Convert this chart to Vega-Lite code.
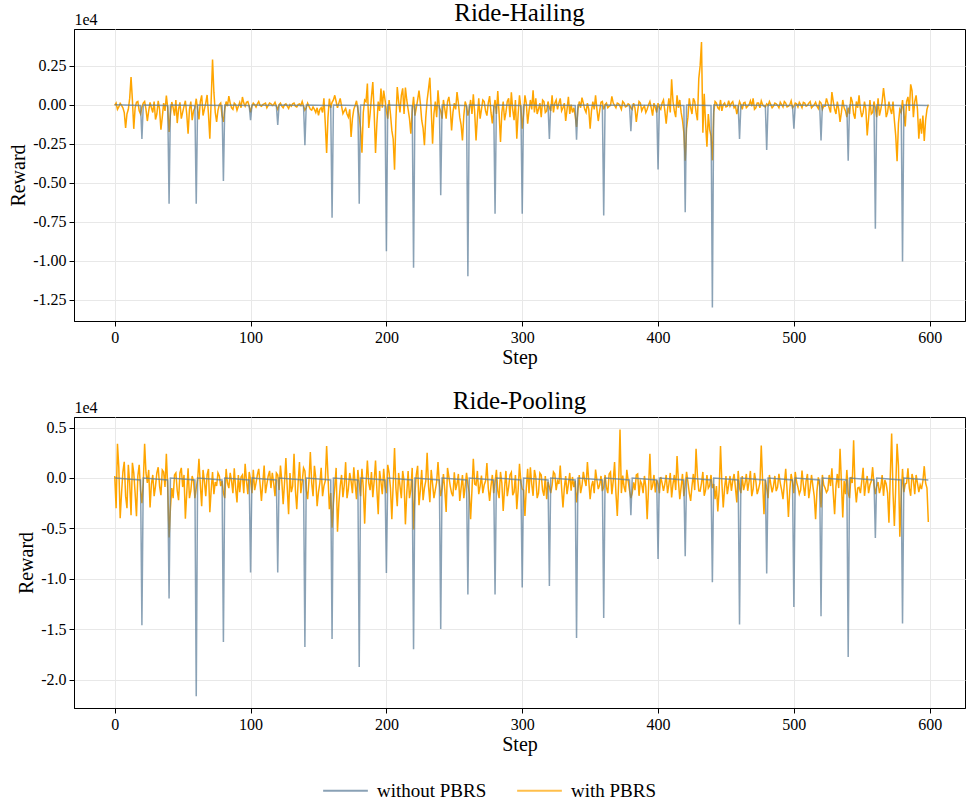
{
"$schema": "https://vega.github.io/schema/vega-lite/v6.json",
"background": "white",
"padding": {"left": 8, "top": 0, "right": 0, "bottom": 0},
"spacing": 20,
"config": {
  "font": "Liberation Serif",
  "view": {"stroke": "black", "strokeWidth": 1},
  "axis": {"labelFont": "Liberation Serif", "titleFont": "Liberation Serif", "labelFontSize": 16, "titleFontSize": 20, "titleFontWeight": "normal", "labelColor": "black", "titleColor": "black", "domainColor": "black", "tickColor": "black", "gridColor": "#e8e8e8", "tickSize": 5, "labelPadding": 3, "titlePadding": 4},
  "axisX": {"titlePadding": 2},
  "title": {"font": "Liberation Serif", "fontSize": 25, "fontWeight": "normal", "color": "black"},
  "legend": {"labelFont": "Liberation Serif", "labelFontSize": 19, "labelColor": "black"}
},
"datasets": {
"orange": [
{"step":0,"hail":-50,"pool":200},{"step":2,"hail":-300,"pool":3400},{"step":4,"hail":80,"pool":-4000},{"step":6,"hail":-200,"pool":600},{"step":8,"hail":-1500,"pool":-1800},{"step":10,"hail":-300,"pool":1300},{"step":12,"hail":1770,"pool":-3700},{"step":14,"hail":-1550,"pool":500},{"step":16,"hail":150,"pool":-3800},{"step":18,"hail":-400,"pool":1300},
{"step":20,"hail":-150,"pool":-2500},{"step":22,"hail":200,"pool":3400},{"step":24,"hail":-1050,"pool":-500},{"step":26,"hail":150,"pool":-2930},{"step":28,"hail":-500,"pool":300},{"step":30,"hail":-950,"pool":-800},{"step":32,"hail":250,"pool":1070},{"step":34,"hail":-1600,"pool":-1700},{"step":36,"hail":100,"pool":600},{"step":38,"hail":580,"pool":2400},
{"step":40,"hail":-1750,"pool":-5900},{"step":42,"hail":170,"pool":-1000},{"step":44,"hail":-700,"pool":300},{"step":46,"hail":-1180,"pool":-1270},{"step":48,"hail":150,"pool":500},{"step":50,"hail":-500,"pool":-900},{"step":52,"hail":250,"pool":-4030},{"step":54,"hail":-1860,"pool":970},{"step":56,"hail":200,"pool":-1270},{"step":58,"hail":-400,"pool":-300},
{"step":60,"hail":380,"pool":-1000},{"step":62,"hail":-950,"pool":1900},{"step":64,"hail":600,"pool":-2800},{"step":66,"hail":-300,"pool":-300},{"step":68,"hail":620,"pool":300},{"step":70,"hail":-2180,"pool":-3400},{"step":72,"hail":2890,"pool":600},{"step":74,"hail":-500,"pool":-400},{"step":76,"hail":-360,"pool":500},{"step":78,"hail":100,"pool":-800},
{"step":80,"hail":-1110,"pool":-1500},{"step":82,"hail":200,"pool":900},{"step":84,"hail":550,"pool":-1000},{"step":86,"hail":-200,"pool":-300},{"step":88,"hail":100,"pool":970},{"step":90,"hail":-360,"pool":-2430},{"step":92,"hail":150,"pool":-1400},{"step":94,"hail":490,"pool":300},{"step":96,"hail":-100,"pool":1400},{"step":98,"hail":200,"pool":-1600},
{"step":100,"hail":-500,"pool":-200},{"step":102,"hail":100,"pool":800},{"step":104,"hail":-150,"pool":-500},{"step":106,"hail":200,"pool":900},{"step":108,"hail":-100,"pool":-2270},{"step":110,"hail":50,"pool":1230},{"step":112,"hail":-200,"pool":-600},{"step":114,"hail":100,"pool":700},{"step":116,"hail":-50,"pool":500},{"step":118,"hail":150,"pool":-1800},
{"step":120,"hail":-300,"pool":300},{"step":122,"hail":100,"pool":1230},{"step":124,"hail":-200,"pool":-2600},{"step":126,"hail":50,"pool":1970},{"step":128,"hail":-250,"pool":-3600},{"step":130,"hail":-100,"pool":-1400},{"step":132,"hail":100,"pool":2400},{"step":134,"hail":-150,"pool":-3100},{"step":136,"hail":50,"pool":1570},{"step":138,"hail":200,"pool":-400},
{"step":140,"hail":-350,"pool":700},{"step":142,"hail":100,"pool":-2100},{"step":144,"hail":-300,"pool":2570},{"step":146,"hail":-150,"pool":-1800},{"step":148,"hail":-500,"pool":0},{"step":150,"hail":-680,"pool":-1400},{"step":152,"hail":-200,"pool":1000},{"step":154,"hail":400,"pool":-800},{"step":156,"hail":-3100,"pool":3170},{"step":158,"hail":380,"pool":-3100},
{"step":160,"hail":150,"pool":-4930},{"step":162,"hail":600,"pool":-900},{"step":164,"hail":-200,"pool":-5330},{"step":166,"hail":400,"pool":-800},{"step":168,"hail":-580,"pool":-1900},{"step":170,"hail":-250,"pool":1570},{"step":172,"hail":-800,"pool":-1100},{"step":174,"hail":-2070,"pool":-300},{"step":176,"hail":-300,"pool":1070},{"step":178,"hail":250,"pool":-2100},
{"step":180,"hail":-800,"pool":-600},{"step":182,"hail":-3080,"pool":900},{"step":184,"hail":300,"pool":-4530},{"step":186,"hail":1350,"pool":1730},{"step":188,"hail":-600,"pool":-1200},{"step":190,"hail":1450,"pool":-1900},{"step":192,"hail":-3100,"pool":1730},{"step":194,"hail":200,"pool":-3600},{"step":196,"hail":1030,"pool":-400},{"step":198,"hail":900,"pool":900},
{"step":200,"hail":-400,"pool":-1500},{"step":202,"hail":300,"pool":500},{"step":204,"hail":-1650,"pool":-4100},{"step":206,"hail":-4170,"pool":2970},{"step":208,"hail":1130,"pool":-2800},{"step":210,"hail":-500,"pool":-800},{"step":212,"hail":1050,"pool":700},{"step":214,"hail":1100,"pool":-4600},{"step":216,"hail":-300,"pool":700},{"step":218,"hail":-1860,"pool":-1200},
{"step":220,"hail":500,"pool":-5100},{"step":222,"hail":-200,"pool":300},{"step":224,"hail":900,"pool":-2700},{"step":226,"hail":-1000,"pool":800},{"step":228,"hail":-2600,"pool":-1000},{"step":230,"hail":300,"pool":2500},{"step":232,"hail":1730,"pool":-2400},{"step":234,"hail":-2500,"pool":-600},{"step":236,"hail":200,"pool":-1200},{"step":238,"hail":920,"pool":1570},
{"step":240,"hail":-400,"pool":-1800},{"step":242,"hail":300,"pool":400},{"step":244,"hail":-900,"pool":-3370},{"step":246,"hail":500,"pool":100},{"step":248,"hail":-1650,"pool":-1500},{"step":250,"hail":100,"pool":570},{"step":252,"hail":800,"pool":-600},{"step":254,"hail":-800,"pool":-2270},{"step":256,"hail":-2290,"pool":300},{"step":258,"hail":200,"pool":-800},
{"step":260,"hail":-700,"pool":-600},{"step":262,"hail":300,"pool":-4100},{"step":264,"hail":660,"pool":1900},{"step":266,"hail":-2290,"pool":-700},{"step":268,"hail":400,"pool":-1600},{"step":270,"hail":-300,"pool":230},{"step":272,"hail":200,"pool":-700},{"step":274,"hail":-700,"pool":1470},{"step":276,"hail":550,"pool":-2270},{"step":278,"hail":-1200,"pool":300},
{"step":280,"hail":300,"pool":-400},{"step":282,"hail":880,"pool":-1270},{"step":284,"hail":-2400,"pool":600},{"step":286,"hail":200,"pool":-3270},{"step":288,"hail":-500,"pool":700},{"step":290,"hail":400,"pool":-900},{"step":292,"hail":790,"pool":570},{"step":294,"hail":-1000,"pool":-1400},{"step":296,"hail":-2180,"pool":-3100},{"step":298,"hail":600,"pool":1400},
{"step":300,"hail":-1540,"pool":-1100},{"step":302,"hail":600,"pool":-3770},{"step":304,"hail":-1220,"pool":900},{"step":306,"hail":300,"pool":1070},{"step":308,"hail":920,"pool":-1770},{"step":310,"hail":400,"pool":70},{"step":312,"hail":-300,"pool":-1500},{"step":314,"hail":-800,"pool":300},{"step":316,"hail":200,"pool":-1770},{"step":318,"hail":-400,"pool":-2100},
{"step":320,"hail":-200,"pool":-900},{"step":322,"hail":600,"pool":-700},{"step":324,"hail":100,"pool":400},{"step":326,"hail":-300,"pool":-300},{"step":328,"hail":400,"pool":1230},{"step":330,"hail":-200,"pool":-2930},{"step":332,"hail":-1050,"pool":200},{"step":334,"hail":500,"pool":-600},{"step":336,"hail":0,"pool":-1270},{"step":338,"hail":-200,"pool":-900},
{"step":340,"hail":-1430,"pool":-2430},{"step":342,"hail":200,"pool":300},{"step":344,"hail":450,"pool":-770},{"step":346,"hail":-300,"pool":-200},{"step":348,"hail":100,"pool":1570},{"step":350,"hail":-1540,"pool":-2100},{"step":352,"hail":200,"pool":-300},{"step":354,"hail":600,"pool":830},{"step":356,"hail":-1050,"pool":-1100},{"step":358,"hail":150,"pool":200},
{"step":360,"hail":-300,"pool":-900},{"step":362,"hail":100,"pool":-930},{"step":364,"hail":-100,"pool":400},{"step":366,"hail":530,"pool":-1600},{"step":368,"hail":-50,"pool":1570},{"step":370,"hail":100,"pool":-3770},{"step":372,"hail":-100,"pool":4800},{"step":374,"hail":200,"pool":230},{"step":376,"hail":-150,"pool":-1400},{"step":378,"hail":50,"pool":-270},
{"step":380,"hail":-200,"pool":-2000},{"step":382,"hail":100,"pool":-430},{"step":384,"hail":-1110,"pool":300},{"step":386,"hail":200,"pool":-1770},{"step":388,"hail":-400,"pool":-600},{"step":390,"hail":-100,"pool":200},{"step":392,"hail":-300,"pool":-4100},{"step":394,"hail":200,"pool":2400},{"step":396,"hail":-700,"pool":-770},{"step":398,"hail":-200,"pool":-1430},
{"step":400,"hail":100,"pool":-600},{"step":402,"hail":-300,"pool":100},{"step":404,"hail":300,"pool":-1270},{"step":406,"hail":-1220,"pool":300},{"step":408,"hail":400,"pool":-600},{"step":410,"hail":1620,"pool":-1930},{"step":412,"hail":-400,"pool":300},{"step":414,"hail":600,"pool":2170},{"step":416,"hail":300,"pool":-2100},{"step":418,"hail":-1000,"pool":400},
{"step":420,"hail":-3600,"pool":-770},{"step":422,"hail":-800,"pool":-400},{"step":424,"hail":-200,"pool":-2270},{"step":426,"hail":400,"pool":400},{"step":428,"hail":-500,"pool":2900},{"step":430,"hail":1670,"pool":-1270},{"step":432,"hail":4020,"pool":-500},{"step":434,"hail":700,"pool":-1770},{"step":436,"hail":-2700,"pool":300},{"step":438,"hail":-1600,"pool":-770},
{"step":440,"hail":-3570,"pool":-1000},{"step":442,"hail":200,"pool":-2100},{"step":444,"hail":-200,"pool":-3330},{"step":446,"hail":300,"pool":3170},{"step":448,"hail":0,"pool":-2930},{"step":450,"hail":-150,"pool":200},{"step":452,"hail":250,"pool":-700},{"step":454,"hail":100,"pool":-1270},{"step":456,"hail":-200,"pool":400},{"step":458,"hail":-600,"pool":-2430},
{"step":460,"hail":200,"pool":-1000},{"step":462,"hail":-300,"pool":200},{"step":464,"hail":150,"pool":-600},{"step":466,"hail":-100,"pool":-1270},{"step":468,"hail":250,"pool":700},{"step":470,"hail":400,"pool":-1100},{"step":472,"hail":-200,"pool":-300},{"step":474,"hail":100,"pool":-1100},{"step":476,"hail":250,"pool":3230},{"step":478,"hail":-100,"pool":-3600},
{"step":480,"hail":50,"pool":-1000},{"step":482,"hail":200,"pool":300},{"step":484,"hail":-200,"pool":-1430},{"step":486,"hail":100,"pool":200},{"step":488,"hail":-50,"pool":-900},{"step":490,"hail":150,"pool":-500},{"step":492,"hail":-150,"pool":-2100},{"step":494,"hail":100,"pool":900},{"step":496,"hail":-100,"pool":-3870},{"step":498,"hail":250,"pool":400},
{"step":500,"hail":-100,"pool":-1500},{"step":502,"hail":50,"pool":-400},{"step":504,"hail":150,"pool":-1600},{"step":506,"hail":-200,"pool":730},{"step":508,"hail":100,"pool":-1770},{"step":510,"hail":-50,"pool":400},{"step":512,"hail":200,"pool":-1000},{"step":514,"hail":-100,"pool":-800},{"step":516,"hail":150,"pool":-4100},{"step":518,"hail":-250,"pool":70},
{"step":520,"hail":100,"pool":-2930},{"step":522,"hail":-100,"pool":-700},{"step":524,"hail":400,"pool":-1430},{"step":526,"hail":-200,"pool":300},{"step":528,"hail":810,"pool":970},{"step":530,"hail":-300,"pool":-3600},{"step":532,"hail":200,"pool":400},{"step":534,"hail":-1110,"pool":2900},{"step":536,"hail":300,"pool":-3930},{"step":538,"hail":-400,"pool":-1600},
{"step":540,"hail":-200,"pool":-1500},{"step":542,"hail":500,"pool":100},{"step":544,"hail":-600,"pool":3730},{"step":546,"hail":200,"pool":-2430},{"step":548,"hail":600,"pool":-930},{"step":550,"hail":-800,"pool":-300},{"step":552,"hail":200,"pool":-1770},{"step":554,"hail":-1970,"pool":200},{"step":556,"hail":300,"pool":-700},{"step":558,"hail":-500,"pool":1070},
{"step":560,"hail":-200,"pool":-1600},{"step":562,"hail":400,"pool":-400},{"step":564,"hail":-300,"pool":-930},{"step":566,"hail":1070,"pool":-1770},{"step":568,"hail":-800,"pool":-600},{"step":570,"hail":200,"pool":-4430},{"step":572,"hail":-600,"pool":4400},{"step":574,"hail":-1000,"pool":-4770},{"step":576,"hail":-3630,"pool":3400},{"step":578,"hail":-300,"pool":-5830},
{"step":580,"hail":300,"pool":900},{"step":582,"hail":-1400,"pool":-600},{"step":584,"hail":500,"pool":970},{"step":586,"hail":1300,"pool":-1770},{"step":588,"hail":-800,"pool":-200},{"step":590,"hail":600,"pool":300},{"step":592,"hail":-2180,"pool":-1400},{"step":594,"hail":-1860,"pool":-1100},{"step":596,"hail":-2330,"pool":1170},{"step":598,"hail":-300,"pool":-1000},
{"step":599,"hail":0,"pool":-4360},
{"step":1,"hail":100,"pool":-3000},{"step":3,"hail":-150,"pool":1000},{"step":5,"hail":-50,"pool":-1500},{"step":7,"hail":-500,"pool":1600},{"step":9,"hail":-600,"pool":-3000},{"step":11,"hail":400,"pool":-500},{"step":13,"hail":300,"pool":1500},{"step":15,"hail":-200,"pool":-1500},{"step":17,"hail":200,"pool":200},{"step":19,"hail":-600,"pool":-1200},
{"step":21,"hail":100,"pool":-500},{"step":23,"hail":-300,"pool":500},{"step":25,"hail":-400,"pool":800},{"step":27,"hail":-200,"pool":-600},{"step":29,"hail":200,"pool":-1800},{"step":31,"hail":-600,"pool":500},{"step":33,"hail":-300,"pool":-800},{"step":35,"hail":-800,"pool":800},{"step":37,"hail":-400,"pool":-900},{"step":39,"hail":-200,"pool":-1000},
{"step":41,"hail":-600,"pool":-3000},{"step":43,"hail":-200,"pool":-2000},{"step":45,"hail":300,"pool":500},{"step":47,"hail":-300,"pool":-2200},{"step":49,"hail":-900,"pool":1000},{"step":51,"hail":-100,"pool":300},{"step":53,"hail":-600,"pool":-1500},{"step":55,"hail":-300,"pool":-2000},{"step":57,"hail":-1000,"pool":200},{"step":59,"hail":-200,"pool":-2000},
{"step":61,"hail":-300,"pool":-200},{"step":63,"hail":200,"pool":-700},{"step":65,"hail":-700,"pool":800},{"step":67,"hail":100,"pool":-1800},{"step":69,"hail":-600,"pool":900},{"step":71,"hail":300,"pool":-1200},{"step":73,"hail":800,"pool":-1600},{"step":75,"hail":-1100,"pool":-800},{"step":77,"hail":0,"pool":200},{"step":79,"hail":-700,"pool":-300},
{"step":81,"hail":-300,"pool":-2000},{"step":83,"hail":-100,"pool":-500},{"step":85,"hail":100,"pool":500},{"step":87,"hail":-300,"pool":-1500},{"step":89,"hail":0,"pool":-1000},{"step":91,"hail":-100,"pool":300},{"step":93,"hail":-200,"pool":100},{"step":95,"hail":100,"pool":-1500},{"step":97,"hail":150,"pool":-300},{"step":99,"hail":-100,"pool":600},
{"step":101,"hail":-100,"pool":-1500},{"step":103,"hail":0,"pool":-1200},{"step":105,"hail":50,"pool":300},{"step":107,"hail":-50,"pool":-600},{"step":109,"hail":0,"pool":-500},{"step":111,"hail":100,"pool":-1500},{"step":113,"hail":-50,"pool":200},{"step":115,"hail":50,"pool":-1000},{"step":117,"hail":0,"pool":-500},{"step":119,"hail":-100,"pool":500},
{"step":121,"hail":0,"pool":-1200},{"step":123,"hail":-100,"pool":-300},{"step":125,"hail":0,"pool":-500},{"step":127,"hail":-100,"pool":-1000},{"step":129,"hail":0,"pool":500},{"step":131,"hail":50,"pool":-800},{"step":133,"hail":-100,"pool":-1200},{"step":135,"hail":0,"pool":-500},{"step":137,"hail":-50,"pool":-1500},{"step":139,"hail":-100,"pool":1000},
{"step":141,"hail":-200,"pool":-1200},{"step":143,"hail":-100,"pool":-300},{"step":145,"hail":-350,"pool":-500},{"step":147,"hail":-300,"pool":1200},{"step":149,"hail":-200,"pool":-2800},{"step":151,"hail":-300,"pool":-500},{"step":153,"hail":-500,"pool":-1800},{"step":155,"hail":-1200,"pool":-300},{"step":157,"hail":-800,"pool":200},{"step":159,"hail":-200,"pool":-1500},
{"step":161,"hail":300,"pool":-2500},{"step":163,"hail":200,"pool":1000},{"step":165,"hail":100,"pool":-2500},{"step":167,"hail":-100,"pool":300},{"step":169,"hail":-400,"pool":-700},{"step":171,"hail":-600,"pool":-2000},{"step":173,"hail":-300,"pool":500},{"step":175,"hail":-900,"pool":-1500},{"step":177,"hail":-50,"pool":-600},{"step":179,"hail":-300,"pool":800},
{"step":181,"hail":-1500,"pool":-1800},{"step":183,"hail":-500,"pool":-1000},{"step":185,"hail":200,"pool":-600},{"step":187,"hail":-1500,"pool":-500},{"step":189,"hail":500,"pool":600},{"step":191,"hail":-500,"pool":-300},{"step":193,"hail":-1200,"pool":-1200},{"step":195,"hail":-400,"pool":700},{"step":197,"hail":-200,"pool":-1600},{"step":199,"hail":300,"pool":-800},
{"step":201,"hail":-900,"pool":1300},{"step":203,"hail":-600,"pool":-1000},{"step":205,"hail":-2200,"pool":-600},{"step":207,"hail":-1000,"pool":-1000},{"step":209,"hail":200,"pool":500},{"step":211,"hail":600,"pool":-2000},{"step":213,"hail":-600,"pool":-300},{"step":215,"hail":300,"pool":-1500},{"step":217,"hail":-900,"pool":-2000},{"step":219,"hail":-400,"pool":1000},
{"step":221,"hail":-700,"pool":-1500},{"step":223,"hail":300,"pool":1200},{"step":225,"hail":100,"pool":-1200},{"step":227,"hail":-1500,"pool":-2200},{"step":229,"hail":-800,"pool":-300},{"step":231,"hail":1000,"pool":-800},{"step":233,"hail":-300,"pool":800},{"step":235,"hail":-600,"pool":-2000},{"step":237,"hail":-800,"pool":-400},{"step":239,"hail":-200,"pool":-600},
{"step":241,"hail":-900,"pool":-1000},{"step":243,"hail":-300,"pool":-1200},{"step":245,"hail":200,"pool":1000},{"step":247,"hail":-200,"pool":-800},{"step":249,"hail":-500,"pool":-1800},{"step":251,"hail":-300,"pool":-1200},{"step":253,"hail":100,"pool":400},{"step":255,"hail":-1300,"pool":-1000},{"step":257,"hail":-700,"pool":-2000},{"step":259,"hail":-100,"pool":500},
{"step":261,"hail":-300,"pool":-1500},{"step":263,"hail":-600,"pool":-1200},{"step":265,"hail":-500,"pool":-600},{"step":267,"hail":-800,"pool":700},{"step":269,"hail":-900,"pool":-800},{"step":271,"hail":300,"pool":-1500},{"step":273,"hail":-400,"pool":-300},{"step":275,"hail":100,"pool":-1000},{"step":277,"hail":-500,"pool":-800},{"step":279,"hail":-300,"pool":-1500},
{"step":281,"hail":-600,"pool":800},{"step":283,"hail":-600,"pool":-2000},{"step":285,"hail":-500,"pool":-500},{"step":287,"hail":-1000,"pool":-1000},{"step":289,"hail":200,"pool":-1800},{"step":291,"hail":-800,"pool":300},{"step":293,"hail":-300,"pool":-1700},{"step":295,"hail":300,"pool":300},{"step":297,"hail":-600,"pool":-1200},{"step":299,"hail":-200,"pool":-400},
{"step":301,"hail":-600,"pool":-1200},{"step":303,"hail":100,"pool":-1000},{"step":305,"hail":-400,"pool":-1500},{"step":307,"hail":-300,"pool":-600},{"step":309,"hail":-500,"pool":800},{"step":311,"hail":-600,"pool":-2000},{"step":313,"hail":100,"pool":500},{"step":315,"hail":300,"pool":-1200},{"step":317,"hail":-500,"pool":200},{"step":319,"hail":200,"pool":-400},
{"step":321,"hail":-400,"pool":-1500},{"step":323,"hail":-500,"pool":600},{"step":325,"hail":300,"pool":-1200},{"step":327,"hail":100,"pool":-600},{"step":329,"hail":-400,"pool":-1000},{"step":331,"hail":100,"pool":-1000},{"step":333,"hail":-300,"pool":-1600},{"step":335,"hail":-600,"pool":500},{"step":337,"hail":-500,"pool":100},{"step":339,"hail":-700,"pool":-300},
{"step":341,"hail":-300,"pool":-1200},{"step":343,"hail":-200,"pool":-1500},{"step":345,"hail":100,"pool":600},{"step":347,"hail":-500,"pool":-800},{"step":349,"hail":-300,"pool":-300},{"step":351,"hail":-400,"pool":-800},{"step":353,"hail":-300,"pool":-1500},{"step":355,"hail":-300,"pool":-200},{"step":357,"hail":-400,"pool":-700},{"step":359,"hail":200,"pool":-1300},
{"step":361,"hail":0,"pool":300},{"step":363,"hail":-200,"pool":-1500},{"step":365,"hail":-50,"pool":600},{"step":367,"hail":100,"pool":-300},{"step":369,"hail":-200,"pool":-1500},{"step":371,"hail":50,"pool":-500},{"step":373,"hail":-300,"pool":-1500},{"step":375,"hail":100,"pool":-900},{"step":377,"hail":-100,"pool":800},{"step":379,"hail":0,"pool":-1200},
{"step":381,"hail":-300,"pool":-1500},{"step":383,"hail":-200,"pool":-1200},{"step":385,"hail":-400,"pool":400},{"step":387,"hail":100,"pool":-300},{"step":389,"hail":-200,"pool":-1500},{"step":391,"hail":-500,"pool":-900},{"step":393,"hail":0,"pool":-1000},{"step":395,"hail":-200,"pool":-1200},{"step":397,"hail":100,"pool":300},{"step":399,"hail":-500,"pool":-200},
{"step":401,"hail":-200,"pool":-1500},{"step":403,"hail":100,"pool":-500},{"step":405,"hail":-400,"pool":-600},{"step":407,"hail":-300,"pool":-1500},{"step":409,"hail":-500,"pool":500},{"step":411,"hail":200,"pool":-600},{"step":413,"hail":-800,"pool":-1200},{"step":415,"hail":-200,"pool":-300},{"step":417,"hail":-500,"pool":-900},{"step":419,"hail":-1800,"pool":-1800},
{"step":421,"hail":-1500,"pool":600},{"step":423,"hail":400,"pool":-1500},{"step":425,"hail":-600,"pool":-800},{"step":427,"hail":200,"pool":-1200},{"step":429,"hail":-1000,"pool":200},{"step":431,"hail":2500,"pool":-1300},{"step":433,"hail":-1800,"pool":600},{"step":435,"hail":-1200,"pool":-1200},{"step":437,"hail":-600,"pool":-1000},{"step":439,"hail":-2000,"pool":300},
{"step":441,"hail":-500,"pool":-600},{"step":443,"hail":100,"pool":-800},{"step":445,"hail":-300,"pool":-1200},{"step":447,"hail":-400,"pool":-500},{"step":449,"hail":100,"pool":-1000},{"step":451,"hail":-100,"pool":-1600},{"step":453,"hail":-100,"pool":200},{"step":455,"hail":200,"pool":-300},{"step":457,"hail":-100,"pool":-1000},{"step":459,"hail":-200,"pool":700},
{"step":461,"hail":0,"pool":-1500},{"step":463,"hail":100,"pool":-1200},{"step":465,"hail":-200,"pool":400},{"step":467,"hail":0,"pool":-400},{"step":469,"hail":-100,"pool":-1800},{"step":471,"hail":-300,"pool":500},{"step":473,"hail":100,"pool":-1600},{"step":475,"hail":-200,"pool":-500},{"step":477,"hail":0,"pool":-400},{"step":479,"hail":-150,"pool":-200},
{"step":481,"hail":-50,"pool":-2000},{"step":483,"hail":0,"pool":-600},{"step":485,"hail":-100,"pool":-800},{"step":487,"hail":50,"pool":-1300},{"step":489,"hail":-200,"pool":400},{"step":491,"hail":0,"pool":-1200},{"step":493,"hail":200,"pool":-600},{"step":495,"hail":-150,"pool":-1200},{"step":497,"hail":0,"pool":-1200},{"step":499,"hail":-200,"pool":-400},
{"step":501,"hail":100,"pool":600},{"step":503,"hail":-150,"pool":-900},{"step":505,"hail":0,"pool":-1200},{"step":507,"hail":150,"pool":-700},{"step":509,"hail":-100,"pool":-300},{"step":511,"hail":100,"pool":-2000},{"step":513,"hail":-200,"pool":300},{"step":515,"hail":0,"pool":-1800},{"step":517,"hail":-100,"pool":-1300},{"step":519,"hail":200,"pool":-800},
{"step":521,"hail":-300,"pool":300},{"step":523,"hail":-100,"pool":-1000},{"step":525,"hail":100,"pool":-1200},{"step":527,"hail":-500,"pool":-800},{"step":529,"hail":200,"pool":-1500},{"step":531,"hail":-600,"pool":-800},{"step":533,"hail":-300,"pool":-1000},{"step":535,"hail":-500,"pool":-400},{"step":537,"hail":-200,"pool":-300},{"step":539,"hail":-800,"pool":800},
{"step":541,"hail":-600,"pool":-2000},{"step":543,"hail":200,"pool":-500},{"step":545,"hail":-900,"pool":-800},{"step":547,"hail":-200,"pool":-1000},{"step":549,"hail":-300,"pool":-1500},{"step":551,"hail":-500,"pool":1000},{"step":553,"hail":-300,"pool":-600},{"step":555,"hail":-900,"pool":-1500},{"step":557,"hail":-600,"pool":-300},{"step":559,"hail":200,"pool":-700},
{"step":561,"hail":-800,"pool":-800},{"step":563,"hail":-700,"pool":-1500},{"step":565,"hail":200,"pool":300},{"step":567,"hail":300,"pool":-200},{"step":569,"hail":-500,"pool":-1500},{"step":571,"hail":-300,"pool":300},{"step":573,"hail":200,"pool":-1500},{"step":575,"hail":-2000,"pool":-900},{"step":577,"hail":-1200,"pool":1200},{"step":579,"hail":-500,"pool":-2000},
{"step":581,"hail":-600,"pool":-1400},{"step":583,"hail":200,"pool":-500},{"step":585,"hail":-400,"pool":-1000},{"step":587,"hail":900,"pool":400},{"step":589,"hail":200,"pool":-1600},{"step":591,"hail":-300,"pool":-500},{"step":593,"hail":-900,"pool":-700},{"step":595,"hail":-700,"pool":-300},{"step":597,"hail":-1000,"pool":-500}
],
"blue": [
{"step":0,"hail":0,"pool":0},
{"step":19,"hail":-60,"pool":-200},{"step":20,"hail":-2200,"pool":-14610},{"step":21,"hail":-20,"pool":0},
{"step":39,"hail":-60,"pool":-200},{"step":40,"hail":-6350,"pool":-11960},{"step":41,"hail":-20,"pool":0},
{"step":59,"hail":-60,"pool":-200},{"step":60,"hail":-6350,"pool":-21660},{"step":61,"hail":-20,"pool":0},
{"step":79,"hail":-60,"pool":-200},{"step":80,"hail":-4900,"pool":-16270},{"step":81,"hail":-20,"pool":0},
{"step":99,"hail":-60,"pool":-200},{"step":100,"hail":-1000,"pool":-9380},{"step":101,"hail":-20,"pool":0},
{"step":119,"hail":-60,"pool":-200},{"step":120,"hail":-1300,"pool":-9380},{"step":121,"hail":-20,"pool":0},
{"step":139,"hail":-60,"pool":-200},{"step":140,"hail":-2600,"pool":-16770},{"step":141,"hail":-20,"pool":0},
{"step":159,"hail":-60,"pool":-200},{"step":160,"hail":-7250,"pool":-15970},{"step":161,"hail":-20,"pool":0},
{"step":179,"hail":-60,"pool":-200},{"step":180,"hail":-6350,"pool":-18750},{"step":181,"hail":-20,"pool":0},
{"step":199,"hail":-60,"pool":-200},{"step":200,"hail":-9400,"pool":-9420},{"step":201,"hail":-20,"pool":0},
{"step":219,"hail":-60,"pool":-200},{"step":220,"hail":-10450,"pool":-16990},{"step":221,"hail":-20,"pool":0},
{"step":239,"hail":-60,"pool":-200},{"step":240,"hail":-5800,"pool":-14980},{"step":241,"hail":-20,"pool":0},
{"step":259,"hail":-60,"pool":-200},{"step":260,"hail":-11000,"pool":-11570},{"step":261,"hail":-20,"pool":0},
{"step":279,"hail":-60,"pool":-200},{"step":280,"hail":-7000,"pool":-11570},{"step":281,"hail":-20,"pool":0},
{"step":299,"hail":-60,"pool":-200},{"step":300,"hail":-7000,"pool":-10870},{"step":301,"hail":-20,"pool":0},
{"step":319,"hail":-60,"pool":-200},{"step":320,"hail":-2200,"pool":-10710},{"step":321,"hail":-20,"pool":0},
{"step":339,"hail":-60,"pool":-200},{"step":340,"hail":-2250,"pool":-15870},{"step":341,"hail":-20,"pool":0},
{"step":359,"hail":-60,"pool":-200},{"step":360,"hail":-7100,"pool":-13890},{"step":361,"hail":-20,"pool":0},
{"step":379,"hail":-60,"pool":-200},{"step":380,"hail":-1700,"pool":-3700},{"step":381,"hail":-20,"pool":0},
{"step":399,"hail":-60,"pool":-200},{"step":400,"hail":-4150,"pool":-8040},{"step":401,"hail":-20,"pool":0},
{"step":419,"hail":-60,"pool":-200},{"step":420,"hail":-6900,"pool":-7770},{"step":421,"hail":-20,"pool":0},
{"step":439,"hail":-60,"pool":-200},{"step":440,"hail":-13000,"pool":-10350},{"step":441,"hail":-20,"pool":0},
{"step":459,"hail":-60,"pool":-200},{"step":460,"hail":-2200,"pool":-14540},{"step":461,"hail":-20,"pool":0},
{"step":479,"hail":-60,"pool":-200},{"step":480,"hail":-2900,"pool":-9480},{"step":481,"hail":-20,"pool":0},
{"step":499,"hail":-60,"pool":-200},{"step":500,"hail":-1550,"pool":-12800},{"step":501,"hail":-20,"pool":0},
{"step":519,"hail":-60,"pool":-200},{"step":520,"hail":-2300,"pool":-13720},{"step":521,"hail":-20,"pool":0},
{"step":539,"hail":-60,"pool":-200},{"step":540,"hail":-3600,"pool":-17760},{"step":541,"hail":-20,"pool":0},
{"step":559,"hail":-60,"pool":-200},{"step":560,"hail":-7950,"pool":-5950},{"step":561,"hail":-20,"pool":0},
{"step":579,"hail":-60,"pool":-200},{"step":580,"hail":-10050,"pool":-14440},{"step":581,"hail":-20,"pool":0},
{"step":599,"hail":-60,"pool":-200}
]
},
"vconcat": [
{
  "width": 891, "height": 292,
  "title": {"text": "Ride-Hailing", "offset": -15},
  "resolve": {"axis": {"x": "independent"}},
  "layer": [
    {"data": {"name": "orange"}, "mark": {"type": "line", "strokeWidth": 1.5},
     "encoding": {
       "x": {"field": "step", "type": "quantitative", "scale": {"domain": [-30, 626], "nice": false, "zero": false}, "axis": {"values": [0,100,200,300,400,500,600], "title": "Step", "grid": true}},
       "y": {"field": "hail", "type": "quantitative", "scale": {"domain": [-13870, 4850], "nice": false, "zero": false}, "axis": {"values": [2500,0,-2500,-5000,-7500,-10000,-12500], "labelExpr": "(datum.value < 0 ? '-' : '') + format(abs(datum.value) / 10000, '.2f')", "title": "Reward", "grid": true}},
       "color": {"datum": "with PBRS", "type": "nominal", "scale": {"domain": ["without PBRS", "with PBRS"], "range": ["#587a97", "#ffa500"]},
         "legend": {"title": null, "orient": "none", "legendX": 248, "legendY": 738, "direction": "horizontal", "symbolType": "stroke", "symbolStrokeWidth": 2, "symbolSize": 2000, "labelOffset": 8, "columnPadding": 26}}
     }},
    {"data": {"name": "blue"}, "mark": {"type": "line", "strokeWidth": 1.5, "opacity": 0.7},
     "encoding": {
       "x": {"field": "step", "type": "quantitative", "axis": {"orient": "top", "labels": false, "ticks": false, "domain": false, "grid": false, "title": "1e4", "titleAnchor": "start", "titleAlign": "left", "titleFontSize": 16, "titlePadding": 2}},
       "y": {"field": "hail", "type": "quantitative"},
       "color": {"datum": "without PBRS", "type": "nominal"}
     }}
  ]
},
{
  "width": 891, "height": 291,
  "title": {"text": "Ride-Pooling", "offset": -15},
  "resolve": {"axis": {"x": "independent"}},
  "layer": [
    {"data": {"name": "orange"}, "mark": {"type": "line", "strokeWidth": 1.5},
     "encoding": {
       "x": {"field": "step", "type": "quantitative", "scale": {"domain": [-30, 626], "nice": false, "zero": false}, "axis": {"values": [0,100,200,300,400,500,600], "title": "Step", "grid": true}},
       "y": {"field": "pool", "type": "quantitative", "scale": {"domain": [-22820, 6050], "nice": false, "zero": false}, "axis": {"values": [5000,0,-5000,-10000,-15000,-20000], "labelExpr": "(datum.value < 0 ? '-' : '') + format(abs(datum.value) / 10000, '.1f')", "title": "Reward", "grid": true}},
       "color": {"datum": "with PBRS", "type": "nominal"}
     }},
    {"data": {"name": "blue"}, "mark": {"type": "line", "strokeWidth": 1.5, "opacity": 0.7},
     "encoding": {
       "x": {"field": "step", "type": "quantitative", "axis": {"orient": "top", "labels": false, "ticks": false, "domain": false, "grid": false, "title": "1e4", "titleAnchor": "start", "titleAlign": "left", "titleFontSize": 16, "titlePadding": 2}},
       "y": {"field": "pool", "type": "quantitative"},
       "color": {"datum": "without PBRS", "type": "nominal"}
     }}
  ]
}
]
}
